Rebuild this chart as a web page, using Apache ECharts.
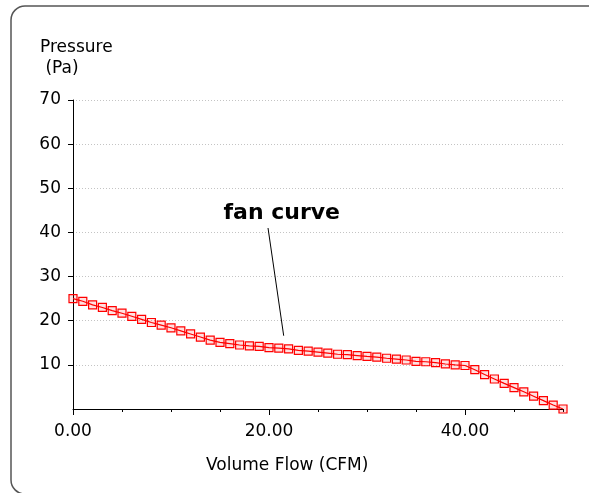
<!DOCTYPE html>
<html><head><meta charset="utf-8">
<script src="https://cdn.jsdelivr.net/npm/echarts@6/dist/echarts.min.js"></script>
<style>html,body{margin:0;padding:0;background:#fff}#c{width:589px;height:493px}</style>
</head><body><div id="c"></div>
<script>
// Fan curve: volume flow (CFM) vs pressure (Pa)
var flow = [];
for (var i = 0; i <= 50; i++) flow.push(i);
var pressure = [25.0,24.4,23.6,23.0,22.3,21.7,21.0,20.3,19.6,19.0,
  18.4,17.7,17.0,16.3,15.6,15.1,14.8,14.5,14.3,14.2,
  13.9,13.8,13.6,13.3,13.1,12.9,12.65,12.4,12.3,12.1,
  11.9,11.75,11.5,11.3,11.1,10.8,10.7,10.5,10.2,10.0,
  9.85,8.9,7.8,6.8,5.8,4.85,3.9,2.9,1.9,0.9,0];
var xMajorTicks = [0, 20, 40];
var yTicks = [10, 20, 30, 40, 50, 60, 70];
var annotationText = 'fan curve';
var annotationLabelAt = [21.3, 44.3];
var annotationLine = [[19.9, 41.0], [21.5, 16.6]];

var FONT = 'DejaVu Sans';
var chart = echarts.init(document.getElementById('c'), null, {renderer: 'canvas'});
var seriesData = flow.map(function (x, k) { return [x, pressure[k]]; });

chart.setOption({
  animation: false,
  backgroundColor: '#fff',
  title: [
    {text: 'Pressure\n (Pa)', left: 35, top: 32,
     textStyle: {fontFamily: FONT, fontSize: 17, fontWeight: 'normal', color: '#000', lineHeight: 21}},
    {text: 'Volume Flow (CFM)', left: 201, top: 452,
     textStyle: {fontFamily: FONT, fontSize: 17, fontWeight: 'normal', color: '#000'}}
  ],
  graphic: [{
    type: 'rect', silent: true, z: -1,
    shape: {x: 11, y: 6, width: 700, height: 488, r: 14},
    style: {fill: 'none', stroke: '#555', lineWidth: 1.5}
  }],
  grid: {left: 73, top: 100, width: 490, height: 309, containLabel: false},
  xAxis: [{
    type: 'value', min: 0, max: 50, interval: 5, position: 'bottom', offset: 0,
    axisLine: {show: true, lineStyle: {color: '#000', width: 1}},
    axisTick: {show: true, length: 3, lineStyle: {color: '#000'}},
    axisLabel: {show: false},
    splitLine: {show: false}
  }, {
    type: 'value', min: 0, max: 50, position: 'bottom', offset: 0,
    axisLine: {show: false},
    axisTick: {show: true, length: 6, customValues: xMajorTicks, lineStyle: {color: '#000'}},
    axisLabel: {show: true, customValues: xMajorTicks, margin: 14,
      fontFamily: FONT, fontSize: 17, color: '#000',
      formatter: function (v) { return v.toFixed(2); }},
    splitLine: {show: false}
  }],
  yAxis: {
    type: 'value', min: 0, max: 70, interval: 10,
    axisLine: {show: true, lineStyle: {color: '#000', width: 1}},
    axisTick: {show: true, length: 5, customValues: yTicks, lineStyle: {color: '#000'}},
    axisLabel: {show: true, customValues: yTicks, margin: 12, fontFamily: FONT, fontSize: 17, color: '#000'},
    splitLine: {show: true, lineStyle: {color: '#c4c4c4', type: [1, 2], width: 1}}
  },
  series: [{
    type: 'line', xAxisIndex: 0, data: seriesData,
    symbol: 'rect', symbolSize: 8, showAllSymbol: true,
    lineStyle: {color: '#ff0000', width: 1.2},
    itemStyle: {color: 'rgba(255,0,0,0.12)', borderColor: '#ff0000', borderWidth: 1.2},
    markLine: {
      silent: true, symbol: ['none', 'none'],
      lineStyle: {color: '#000', type: 'solid', width: 1},
      label: {show: false},
      data: [[{coord: annotationLine[0]}, {coord: annotationLine[1]}]]
    },
    markPoint: {
      silent: true, symbol: 'circle', symbolSize: 0,
      label: {show: true, position: 'inside', formatter: annotationText,
        fontFamily: FONT, fontSize: 22, fontWeight: 'bold', color: '#000'},
      data: [{coord: annotationLabelAt}]
    }
  }]
});
</script></body></html>
